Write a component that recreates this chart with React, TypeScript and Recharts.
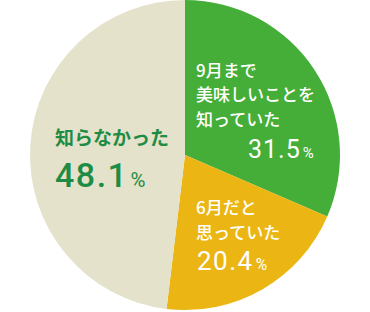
import { Pie, PieChart, Cell } from "recharts";

// share of respondents (%)
const categories = ["9月まで美味しいことを知っていた", "6月だと思っていた", "知らなかった"];
const shares = [31.5, 20.4, 48.1];
const labelLines = [["9月まで", "美味しいことを", "知っていた"], ["6月だと", "思っていた"], ["知らなかった"]];
const colors = ["#44ae38", "#ebb613", "#e4e2ca"];

const data = categories.map((name, i) => ({ name, value: shares[i] }));

const JP = '"Noto Sans CJK JP", "Noto Sans", sans-serif';
const NUM = 'Roboto, "Noto Sans", sans-serif';

// label layout per slice, offsets from the pie centre
const layout = [
  { dx: 11, lineY: [-78, -54, -29], lineSize: 17, numDx: 63, numDy: 3, numSize: 25, numWeight: 400, spacing: 1, color: "#fff", weight: 500 },
  { dx: 11, lineY: [59, 84], lineSize: 17, numDx: 12, numDy: 115, numSize: 26, numWeight: 400, spacing: 1.5, color: "#fff", weight: 500 },
  { dx: -130, lineY: [-10], lineSize: 19, numDx: -130, numDy: 32, numSize: 34, numWeight: 500, spacing: 1.5, color: "#1f8c45", weight: 700 },
];

function renderLabel(props: any) {
  const { cx, cy, index } = props;
  const l = layout[index];
  return (
    <g key={index}>
      {labelLines[index].map((line, j) => (
        <text
          key={j}
          x={cx + l.dx}
          y={cy + l.lineY[j]}
          fill={l.color}
          fontSize={l.lineSize}
          fontWeight={l.weight}
          fontFamily={JP}
        >
          {line}
        </text>
      ))}
      <text x={cx + l.numDx} y={cy + l.numDy} fill={l.color} fontFamily={NUM}>
        <tspan fontSize={l.numSize} fontWeight={l.numWeight} letterSpacing={l.spacing}>
          {shares[index].toFixed(1)}
        </tspan>
        <tspan fontSize={l.numSize * 0.6} dx={2} fontWeight={400}>%</tspan>
      </text>
    </g>
  );
}

export default function App() {
  return (
    <div style={{ position: "absolute", left: 0, top: 0, width: 370, height: 312, background: "#fff" }}>
      <PieChart width={370} height={312} margin={{ top: 0, right: 0, bottom: 0, left: 0 }}>
        <Pie
          data={data}
          dataKey="value"
          nameKey="name"
          cx={185}
          cy={155}
          outerRadius={155}
          startAngle={90}
          endAngle={-270}
          stroke="none"
          label={renderLabel}
          labelLine={false}
          isAnimationActive={false}
        >
          {data.map((d, i) => (
            <Cell key={d.name} fill={colors[i]} />
          ))}
        </Pie>
      </PieChart>
    </div>
  );
}
